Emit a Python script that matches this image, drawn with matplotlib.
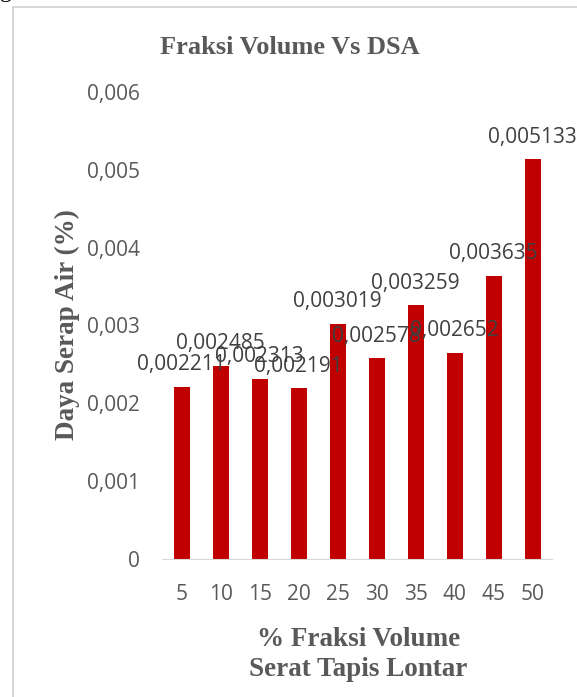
import matplotlib.pyplot as plt
from matplotlib.lines import Line2D
from matplotlib.ticker import FuncFormatter

fraksi = ['5', '10', '15', '20', '25', '30', '35', '40', '45', '50']
dsa = [0.002211, 0.002485, 0.002313, 0.002191, 0.003019,
       0.002578, 0.003259, 0.002652, 0.003635, 0.005133]

bar_color = '#c00000'
grey = '#595959'

fig = plt.figure(figsize=(5.77, 6.97), dpi=100)
ax = fig.add_axes([0.281, 0.198, 0.676, 0.670])

x = range(len(fraksi))
ax.bar(x, dsa, width=0.41, color=bar_color)

for i, v in enumerate(dsa):
    ax.annotate(f'{v:.6f}'.replace('.', ','), (i, v), xytext=(0, 12),
                textcoords='offset points', ha='center', va='baseline',
                fontsize=15, family='Open Sans', color='#404040')

ax.set_ylim(0, 0.006)
ax.set_xlim(-0.5, len(fraksi) - 0.5)
ax.set_yticks([0, 0.001, 0.002, 0.003, 0.004, 0.005, 0.006])
ax.yaxis.set_major_formatter(FuncFormatter(
    lambda v, p: '0' if v == 0 else f'{v:.3f}'.replace('.', ',')))
ax.set_xticks(list(x))
ax.set_xticklabels(fraksi)

for lab in ax.get_xticklabels() + ax.get_yticklabels():
    lab.set_family('Open Sans')
    lab.set_fontsize(15)
    lab.set_color(grey)
ax.tick_params(axis='both', length=0)
ax.tick_params(axis='x', pad=18)
ax.tick_params(axis='y', pad=16)

for s in ['top', 'right', 'left']:
    ax.spines[s].set_visible(False)
ax.spines['bottom'].set_color('#d9d9d9')

fig.text(0.503, 0.932, 'Fraksi Volume Vs DSA', ha='center', va='center',
         family='Liberation Serif', fontweight='bold', fontsize=19, color=grey)
fig.text(0.116, 0.535, 'Daya Serap Air (%)', ha='center', va='center',
         rotation=90, family='Liberation Serif', fontweight='bold',
         fontsize=19.5, color=grey)
fig.text(0.621, 0.061, '% Fraksi Volume\nSerat Tapis Lontar', ha='center',
         va='center', family='Liberation Serif', fontweight='bold',
         fontsize=19.5, color=grey, linespacing=1.25)

# text from the page above the chart, cut off at the top
fig.text(0.0, 1.012, 'gambar dibawah ini.', ha='left', va='center',
         family='Liberation Serif', fontsize=17, color='black')

# chart frame
fig.add_artist(Line2D([0.023, 0.023], [0.0, 0.99], color='#d0d0d0', lw=1.2))
fig.add_artist(Line2D([0.023, 1.0], [0.99, 0.99], color='#d0d0d0', lw=1.2))

fig.savefig('out.png', dpi=100)
